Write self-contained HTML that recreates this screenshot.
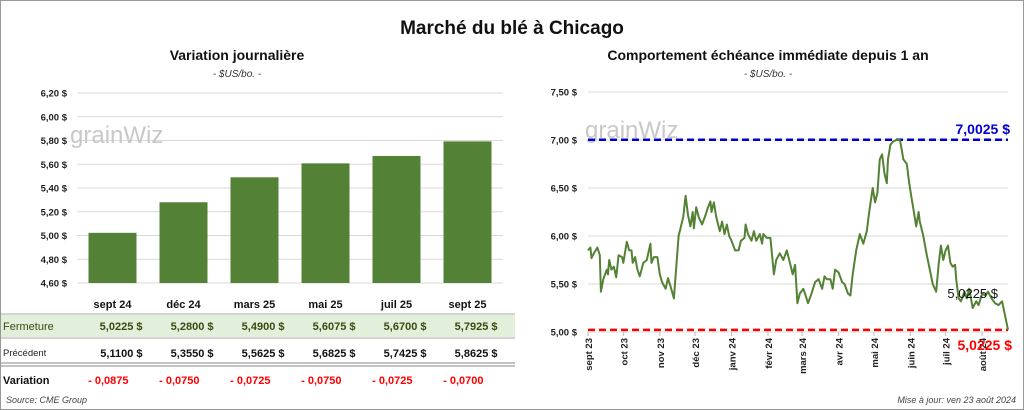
<!DOCTYPE html>
<html><head><meta charset="utf-8">
<style>
body{margin:0;background:#fff;font-family:"Liberation Sans",sans-serif;}
#wrap{position:relative;width:1024px;height:410px;overflow:hidden;}
svg text{font-family:"Liberation Sans",sans-serif;}
</style></head>
<body>
<div id="wrap">
<svg id="svg" width="1024" height="410" xmlns="http://www.w3.org/2000/svg">
<rect x="0.5" y="0.5" width="1023" height="409" fill="#fff" stroke="#999"/>
<text x="512" y="34" text-anchor="middle" font-size="19" font-weight="bold" fill="#111">Marché du blé à Chicago</text>
<text x="237" y="60" text-anchor="middle" font-size="14" font-weight="bold" fill="#111">Variation  journalière</text>
<text x="237" y="77" text-anchor="middle" font-size="10" font-style="italic" fill="#333">- $US/bo. -</text>
<text x="768" y="60" text-anchor="middle" font-size="14" font-weight="bold" fill="#111">Comportement  échéance immédiate depuis 1 an</text>
<text x="768" y="77" text-anchor="middle" font-size="10" font-style="italic" fill="#333">- $US/bo. -</text>
<g id="left"></g>
<g id="table"></g>
<g id="right"></g>
<text x="6" y="403" font-size="9" font-style="italic" fill="#444">Source: CME Group</text>
<text x="1016" y="403" text-anchor="end" font-size="9" font-style="italic" fill="#444">Mise à jour: ven 23 août 2024</text>
</svg>
</div>
<script>
const contracts = ["sept 24","déc 24","mars 25","mai 25","juil 25","sept 25"];
const closeVals = [5.0225,5.2800,5.4900,5.6075,5.6700,5.7925];
const prevVals = [5.1100,5.3550,5.5625,5.6825,5.7425,5.8625];
const barTicks = [4.6,4.8,5.0,5.2,5.4,5.6,5.8,6.0,6.2];
const lineTicks = [5.0,5.5,6.0,6.5,7.0,7.5];
const monthLabels = ["sept 23","oct 23","nov 23","déc 23","janv 24","févr 24","mars 24","avr 24","mai 24","juin 24","juil 24","août 24"];
const monthDays = [0,30,61,91,122,153,182,213,243,274,304,335];
const dayIdx = [0,2,3,5,8,10,11,13,16,17,18,20,22,24,26,29,30,33,35,37,38,40,42,44,47,50,53,54,56,59,61,63,66,68,70,73,77,81,83,85,87,89,90,92,94,97,100,102,104,105,107,109,112,114,116,118,120,122,125,128,130,133,134,136,139,141,143,146,148,149,152,155,158,160,163,166,169,172,174,176,178,180,183,185,187,190,193,196,199,201,203,206,208,210,213,216,218,221,223,225,228,231,234,237,239,242,244,246,248,250,252,254,255,257,259,262,265,266,268,271,273,275,277,279,281,282,285,288,291,293,296,298,300,302,304,306,308,310,312,313,315,317,320,322,324,327,330,332,335,338,340,343,346,349,352,354,357];
const prices = [5.85,5.88,5.77,5.82,5.88,5.80,5.42,5.55,5.65,5.60,5.75,5.65,5.68,5.57,5.80,5.78,5.72,5.94,5.85,5.85,5.72,5.78,5.65,5.58,5.72,5.75,5.92,5.72,5.78,5.78,5.60,5.52,5.45,5.56,5.48,5.35,6.00,6.20,6.42,6.22,6.10,6.25,6.08,6.30,6.20,6.12,6.22,6.30,6.36,6.25,6.35,6.20,6.05,6.15,6.02,6.12,6.00,5.95,5.85,5.85,5.95,5.98,6.12,6.02,5.95,6.05,5.95,6.02,5.92,6.02,5.98,5.98,5.60,5.75,5.82,5.75,5.85,5.70,5.60,5.70,5.30,5.40,5.45,5.38,5.30,5.40,5.52,5.55,5.45,5.58,5.55,5.55,5.45,5.65,5.62,5.52,5.50,5.40,5.38,5.60,5.85,6.02,5.92,6.05,6.25,6.50,6.35,6.45,6.80,6.85,6.65,6.55,6.80,6.95,6.98,7.00,7.00,6.95,6.80,6.75,6.55,6.40,6.25,6.10,6.25,6.15,6.00,5.80,5.62,5.50,5.42,5.70,5.90,5.75,5.85,5.90,5.72,5.68,5.70,5.55,5.35,5.32,5.42,5.35,5.45,5.25,5.32,5.28,5.40,5.38,5.42,5.35,5.30,5.28,5.32,5.20,5.0225];
const totalDays = 357;
const highVal = 7.0025, lowVal = 5.0225;

const NS="http://www.w3.org/2000/svg";
function mk(tag, attrs, parent, txt){const e=document.createElementNS(NS,tag);for(const k in attrs)e.setAttribute(k,attrs[k]);if(txt!==undefined)e.textContent=txt;parent.appendChild(e);return e;}
const fmt2=v=>v.toFixed(2).replace('.',',')+' $';
const fmt4=v=>v.toFixed(4).replace('.',',');

// left bar chart
const L=document.getElementById('left');
const lx0=77,lx1=503,ly=v=>283-(v-4.6)/(6.2-4.6)*190;
const band=(lx1-lx0)/contracts.length, bx=i=>lx0+band*(i+0.5);
barTicks.forEach(t=>{
 const g=mk('line',{x1:lx0,x2:lx1,y1:ly(t),y2:ly(t),stroke:'#d9d9d9','stroke-width':1},L);
 
 
 const tx=mk('text',{x:67,y:ly(t)+3.5,'text-anchor':'end','font-size':9.5,'font-weight':'bold',fill:'#222'},L,fmt2(t));
 
 
});
const wm1=mk('text',{x:70,y:143,'font-size':24,fill:'#c8c8c8'},L,'grainWiz');


closeVals.forEach((v,i)=>{
 const r=mk('rect',{x:bx(i)-24,y:ly(v),width:48,height:ly(4.6)-ly(v),fill:'#538135'},L);
 
 
});

// table
const T=document.getElementById('table');
const bg=mk('rect',{x:1,y:315,width:514,height:22,fill:'#e2efda'},T);


[[314,'#aaa',1],[338,'#aaa',1],[363,'#888',1],[366,'#888',1]].forEach(l=>{
 const e=mk('line',{x1:1,x2:515,y1:l[0],y2:l[0],stroke:l[1],'stroke-width':l[2]},T);
 
 
});
const r1=mk('text',{x:3,y:330,'font-size':11,fill:'#3a4a10'},T,'Fermeture');

const r2=mk('text',{x:3,y:356,'font-size':9.5,fill:'#222'},T,'Précédent');

const r3=mk('text',{x:3,y:384,'font-size':11,'font-weight':'bold',fill:'#111'},T,'Variation');

contracts.forEach((c,i)=>{
 const h=mk('text',{x:bx(i),y:308,'text-anchor':'middle','font-size':11,'font-weight':'bold',fill:'#111'},T,c);
 
 
 const a=mk('text',{x:bx(i)+30,y:330,'text-anchor':'end','font-size':11,'font-weight':'bold',fill:'#3a4a10','xml:space':'preserve'},T,fmt4(closeVals[i])+'  $');
 
 
 const b=mk('text',{x:bx(i)+30,y:357,'text-anchor':'end','font-size':11,'font-weight':'bold',fill:'#111'},T,fmt4(prevVals[i])+'  $');
 
 
 const d=closeVals[i]-prevVals[i];
 const dv=mk('text',{x:bx(i)+16,y:384,'text-anchor':'end','font-size':11,'font-weight':'bold',fill:'#ff0000'},T,(d<0?'- ':'+ ')+fmt4(Math.abs(d)));
 
 
});

// right line chart
const R=document.getElementById('right');
const rx0=588,rx1=1008;
const rx=d=>rx0+d/totalDays*(rx1-rx0), ry=v=>332-(v-5)*96;
lineTicks.forEach(t=>{
 const g=mk('line',{x1:rx0,x2:rx1,y1:ry(t),y2:ry(t),stroke:'#d9d9d9'},R);
 
 
 const tx=mk('text',{x:577,y:ry(t)+3.5,'text-anchor':'end','font-size':9.5,'font-weight':'bold',fill:'#222'},R,fmt2(t));
 
 
});
const wm2=mk('text',{x:585,y:138,'font-size':24,fill:'#c8c8c8'},R,'grainWiz');


monthLabels.forEach((m,i)=>{
 const x=rx(monthDays[i]);
 const tk=mk('line',{x1:x,x2:x,y1:332,y2:336,stroke:'#bbb'},R);
 
 
 const t=mk('text',{x:x+4,y:338,'text-anchor':'end','font-size':9.5,'font-weight':'bold',fill:'#222',transform:`rotate(-90 ${x+4} 338)`},R,m);
 
 
});
const hl=mk('line',{x1:rx0,x2:rx1,y1:ry(highVal),y2:ry(highVal),stroke:'#0000cc','stroke-width':2.5,'stroke-dasharray':'7,4'},R);

const ll=mk('line',{x1:rx0,x2:rx1,y1:ry(lowVal),y2:ry(lowVal),stroke:'#ff0000','stroke-width':2.5,'stroke-dasharray':'7,4'},R);

const pts=prices.map((v,i)=>rx(dayIdx[i]).toFixed(1)+','+ry(v).toFixed(1)).join(' ');
const pl=mk('polyline',{points:pts,fill:'none',stroke:'#548235','stroke-width':2,'stroke-linejoin':'round'},R);


const hlab=mk('text',{x:1010,y:134,'text-anchor':'end','font-size':14,'font-weight':'bold',fill:'#0000cc'},R,fmt4(highVal)+' $');

const llab=mk('text',{x:1012,y:350,'text-anchor':'end','font-size':14,'font-weight':'bold',fill:'#ff0000'},R,fmt4(lowVal)+' $');

const clab=mk('text',{x:998,y:298,'text-anchor':'end','font-size':13,fill:'#111'},R,fmt4(prices[prices.length-1])+' $');

</script>
</body></html>
